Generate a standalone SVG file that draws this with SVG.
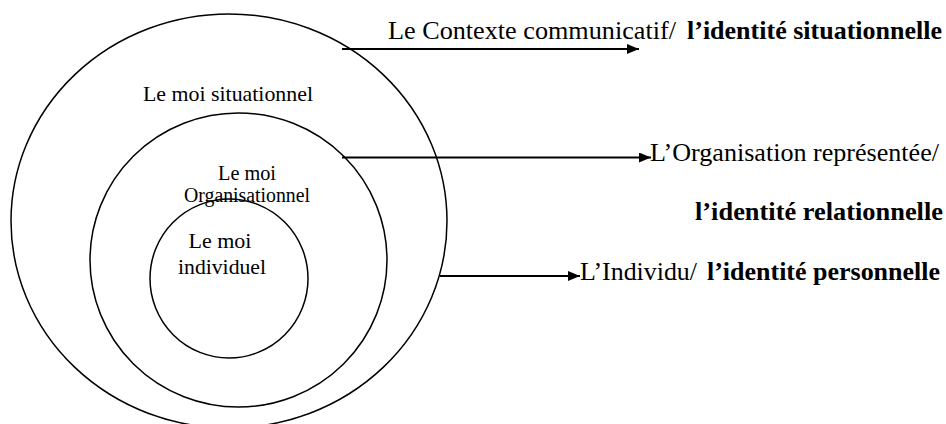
<svg xmlns="http://www.w3.org/2000/svg" width="946" height="424" viewBox="0 0 946 424">
<defs>
<marker id="ah" markerWidth="12" markerHeight="10" refX="12" refY="5" orient="auto" markerUnits="userSpaceOnUse">
<path d="M0,0 L12,5 L0,10 Z" fill="#000"/>
</marker>
<style>
.c{fill:none;stroke:#000;stroke-width:1.5}
.t{font-family:"Liberation Serif","Times New Roman",serif;fill:#000}
.b{font-weight:bold}
.l{stroke:#000;stroke-width:2;fill:none}
</style>
</defs>
<rect width="946" height="424" fill="#fff"/>
<g id="outer">
<ellipse class="c" cx="229" cy="221" rx="218" ry="207"/>
<text class="t" x="228" y="101" font-size="21" text-anchor="middle" textLength="170" lengthAdjust="spacingAndGlyphs">Le moi situationnel</text>
</g>
<g id="middle">
<ellipse class="c" cx="238.5" cy="260" rx="148.5" ry="147"/>
<text class="t" x="247" y="180" font-size="20" text-anchor="middle" textLength="58" lengthAdjust="spacingAndGlyphs">Le moi</text>
<text class="t" x="247" y="202" font-size="20" text-anchor="middle" textLength="126" lengthAdjust="spacingAndGlyphs">Organisationnel</text>
</g>
<g id="inner">
<ellipse class="c" cx="229" cy="278.5" rx="79" ry="79.5"/>
<text class="t" x="220" y="248" font-size="22" text-anchor="middle" textLength="63" lengthAdjust="spacingAndGlyphs">Le moi</text>
<text class="t" x="222" y="274" font-size="22" text-anchor="middle" textLength="88" lengthAdjust="spacingAndGlyphs">individuel</text>
</g>
<g id="connectors">
<line class="l" x1="342" y1="49" x2="639" y2="49" marker-end="url(#ah)"/>
<line class="l" x1="342" y1="157.5" x2="651" y2="157.5" marker-end="url(#ah)"/>
<line class="l" x1="440" y1="276" x2="580" y2="276" marker-end="url(#ah)"/>
</g>
<g id="label-contexte">
<text class="t" x="388" y="39" font-size="26" textLength="288" lengthAdjust="spacingAndGlyphs">Le Contexte communicatif/</text>
<text class="t b" x="687" y="39" font-size="26" textLength="255" lengthAdjust="spacingAndGlyphs">l’identité situationnelle</text>
</g>
<g id="label-organisation">
<text class="t" x="650" y="161" font-size="26" textLength="289" lengthAdjust="spacingAndGlyphs">L’Organisation représentée/</text>
<text class="t b" x="695" y="220" font-size="26" textLength="248" lengthAdjust="spacingAndGlyphs">l’identité relationnelle</text>
</g>
<g id="label-individu">
<text class="t" x="580" y="280" font-size="26" textLength="117" lengthAdjust="spacingAndGlyphs">L’Individu/</text>
<text class="t b" x="707" y="280" font-size="26" textLength="233" lengthAdjust="spacingAndGlyphs">l’identité personnelle</text>
</g>
</svg>
